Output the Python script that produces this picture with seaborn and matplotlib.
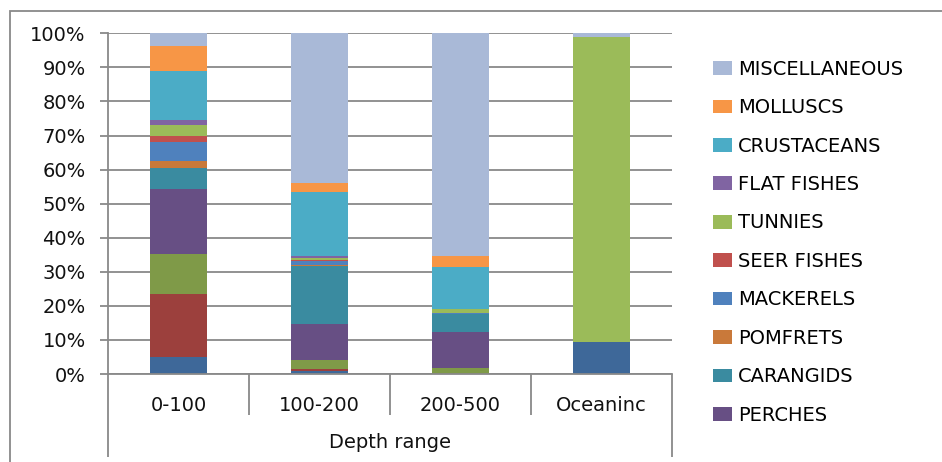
import pandas as pd
import seaborn as sns
import matplotlib
matplotlib.use("Agg")
import matplotlib.pyplot as plt
from matplotlib.patches import Patch, Rectangle
from matplotlib.ticker import PercentFormatter, MultipleLocator

# depth classes on the x axis
depth = ["0-100", "100-200", "200-500", "Oceaninc"]

# groups from the bottom of the stack to the top
groups = ["ELASMOBRANCHS", "CATFISHES", "CLUPEIDS", "PERCHES", "CARANGIDS",
          "POMFRETS", "MACKERELS", "SEER FISHES", "TUNNIES", "FLAT FISHES",
          "CRUSTACEANS", "MOLLUSCS", "MISCELLANEOUS"]
colors = ["#3E6899", "#9C403D", "#7F9A48", "#674F84", "#3A8BA0",
          "#C9793A", "#4F81BD", "#C0504D", "#9BBB59", "#8064A2",
          "#4BACC6", "#F79646", "#A9B9D7"]

# share of the catch (%) for each group
share_0_100 = [4.9, 18.5, 11.7, 19.1, 6.4, 1.9, 5.5, 1.9, 3.2, 1.4, 14.5, 7.4, 3.6]
share_100_200 = [0.9, 0.6, 2.5, 10.6, 17.2, 0.2, 1.3, 0.3, 0.4, 0.6, 18.7, 2.7, 44.0]
share_200_500 = [0.0, 0.0, 1.7, 10.5, 5.3, 0.0, 0.3, 0.0, 1.3, 0.1, 12.1, 3.3, 65.4]
share_oceanic = [9.5, 0.0, 0.0, 0.0, 0.0, 0.0, 0.0, 0.0, 89.3, 0.0, 0.0, 0.0, 1.2]

# the legend in the original only fits these (top to bottom)
legend_groups = ["MISCELLANEOUS", "MOLLUSCS", "CRUSTACEANS", "FLAT FISHES",
                 "TUNNIES", "SEER FISHES", "MACKERELS", "POMFRETS",
                 "CARANGIDS", "PERCHES"]

tab = pd.DataFrame({"0-100": share_0_100, "100-200": share_100_200,
                    "200-500": share_200_500, "Oceaninc": share_oceanic},
                   index=groups)
tab = tab / tab.sum()          # 100% stacked
cum = tab.cumsum()

plt.rcParams['font.family'] = ['DejaVu Sans']
grey = "#898989"

fig = plt.figure(figsize=(9.42, 4.62), dpi=100)
ax = fig.add_axes([108/942, 88/462, 564/942, 340.7/462])

# draw the cumulative totals from the top down so each layer covers the next
for g in reversed(groups):
    d = pd.DataFrame({"depth": depth, "value": cum.loc[g, depth].values})
    sns.barplot(data=d, x="depth", y="value", color=colors[groups.index(g)],
                saturation=1, width=0.4, order=depth, ax=ax, linewidth=0)

ax.set_ylim(0, 1)
ax.set_xlim(-0.5, len(depth) - 0.5)
ax.yaxis.set_major_locator(MultipleLocator(0.1))
ax.yaxis.set_major_formatter(PercentFormatter(1.0, decimals=0))
ax.set_axisbelow(True)
ax.yaxis.grid(True, color=grey, linewidth=1.3)
for s in ["top", "right"]:
    ax.spines[s].set_visible(False)
for s in ["left", "bottom"]:
    ax.spines[s].set_color(grey)
    ax.spines[s].set_linewidth(1.3)
ax.tick_params(axis="y", length=6, width=1.3, color=grey, labelsize=14, pad=10,
               labelcolor="#111111")
ax.tick_params(axis="x", length=0, labelsize=14, pad=15.5, labelcolor="#111111")
ax.set_ylabel("")
ax.set_xlabel("Depth range", fontsize=14, labelpad=13, color="#111111")

# category separators like the excel multi-level axis
tr = ax.get_xaxis_transform()
ax.vlines([0.5, 1.5, 2.5], 0, -0.12, transform=tr, color=grey, lw=1.3, clip_on=False)
ax.vlines([-0.5, 3.5], 0, -0.2436, transform=tr, color=grey, lw=1.3, clip_on=False)

# outer chart border (only left/top visible in the original)
fig.patches.append(Rectangle((10/942, -0.2), 1.2, 1 - 11/462 + 0.2,
                             transform=fig.transFigure, fill=False,
                             edgecolor=grey, lw=1.3))

handles = [Patch(facecolor=colors[groups.index(g)], label=g) for g in legend_groups]
fig.legend(handles=handles, loc="upper left", bbox_to_anchor=(703/942, 1 - 50/462),
           frameon=False, fontsize=14, handlelength=1.0, handleheight=0.7,
           handletextpad=0.3, labelspacing=1.0, borderpad=0)

fig.savefig("out.png", dpi=100)
